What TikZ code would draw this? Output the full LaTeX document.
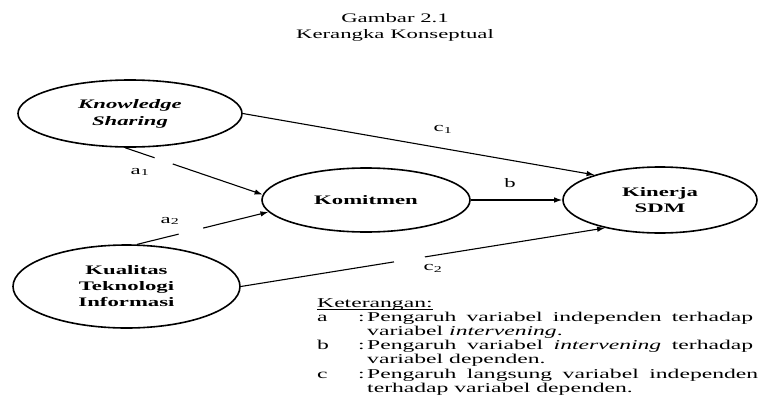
\documentclass[tikz,border=0pt]{standalone}
\usepackage{fontspec}
\setmainfont[FakeStretch=1.75]{Liberation Serif}
\usetikzlibrary{shapes.geometric,arrows.meta}
\begin{document}
\begin{tikzpicture}[x=1pt,y=-1pt,
  var/.style={draw, ellipse, line width=1.6pt, inner sep=0pt, align=center,
    font=\fontsize{13}{16}\selectfont\bfseries},
  varit/.style={var, font=\fontsize{13}{17}\selectfont\bfseries\itshape},
  arr/.style={line width=1.1pt, -{Latex[length=8pt,width=5.5pt]}},
  gap/.style={fill=white, inner sep=0pt, minimum height=5pt, sloped},
  lbl/.style={font=\fontsize{13}{15}\selectfont, inner sep=0pt},
  ttl/.style={font=\fontsize{13}{15}\selectfont, inner sep=0pt},
  legtxt/.style={font=\fontsize{13.5}{14.3}\selectfont, inner sep=0pt}]
\useasboundingbox (0,0) rectangle (761,410);
\fill[white] (0,0) rectangle (761,410);
\node[ttl] (t1) at (395,18) {Gambar 2.1};
\node[ttl] (t2) at (395,35) {Kerangka Konseptual};
\node[varit, minimum width=224pt, minimum height=67pt] (ks) at (130,113.5) {Knowledge\\Sharing};
\node[var, minimum width=208pt, minimum height=64pt] (kom) at (366,200) {Komitmen};
\node[var, minimum width=194pt, minimum height=66pt] (kin) at (660,200) {Kinerja\\SDM};
\node[var, minimum width=227pt, minimum height=83pt] (kti) at (126.5,286.5) {Kualitas\\Teknologi\\Informasi};
\draw[arr] (ks.262) -- node[gap, pos=0.28, minimum width=19pt]{} (kom.177);
\draw[arr] (kti.76) -- node[gap, pos=0.41, minimum width=25pt]{} (kom.187);
\draw[arr] (ks.east) -- (kin.159);
\draw[arr] (kom.east) -- (kin.west);
\draw[arr] (kti.east) -- node[gap, pos=0.463, minimum width=31pt]{} (kin.207);
\node[lbl] (la1) at (140,172) {a\textsubscript{1}};
\node[lbl] (la2) at (170,221) {a\textsubscript{2}};
\node[lbl] (lc1) at (443,129) {c\textsubscript{1}};
\node[lbl] (lb) at (510,183) {b};
\node[lbl] (lc2) at (433,268) {c\textsubscript{2}};
\node[legtxt, anchor=base west] (ket) at (317,307) {Keterangan:};
\draw[line width=0.7pt] ([yshift=-2pt]ket.base west) -- ([yshift=-2pt]ket.base east);
\node[legtxt, anchor=north west] (leg) at (317,310.8) {%
\begin{tabular}{@{}p{41pt}@{}p{9pt}@{}l@{}}
a & : & \makebox[386pt][s]{Pengaruh variabel independen terhadap}\\
 & & variabel \textit{intervening}.\\
b & : & \makebox[386pt][s]{Pengaruh variabel \textit{intervening} terhadap}\\
 & & variabel dependen.\\
c & : & \makebox[391pt][s]{Pengaruh langsung variabel independen}\\
 & & terhadap variabel dependen.
\end{tabular}};
\end{tikzpicture}
\end{document}
